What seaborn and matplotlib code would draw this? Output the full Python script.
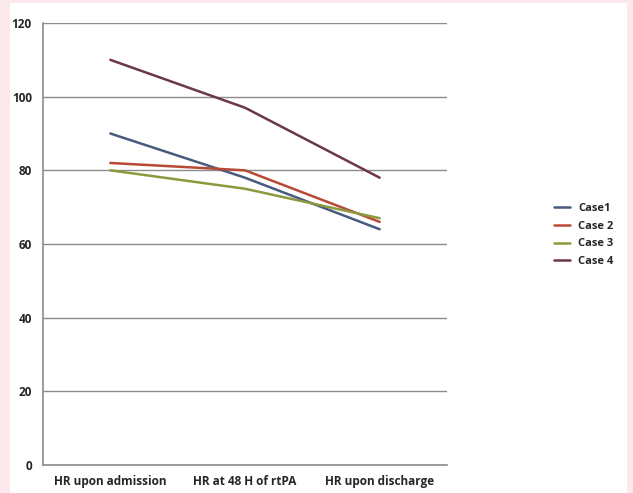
import pandas as pd
import matplotlib.pyplot as plt
import seaborn as sns
from matplotlib.patches import Rectangle

# chart values
stages = ["HR upon admission", "HR at 48 H of rtPA", "HR upon discharge"]
case_names = ["Case1", "Case 2", "Case 3", "Case 4"]
case1 = [90, 78, 64]
case2 = [82, 80, 66]
case3 = [80, 75, 67]
case4 = [110, 97, 78]
y_ticks = [0, 20, 40, 60, 80, 100, 120]
colors = ["#485a7e", "#b84a35", "#8c9a3e", "#6a3848"]

rows = []
for name, vals in zip(case_names, [case1, case2, case3, case4]):
    for i, v in enumerate(vals):
        rows.append({"stage": i, "case": name, "hr": v})
df = pd.DataFrame(rows)

sns.set_style("white")
plt.rcParams['font.family'] = ['Open Sans', 'DejaVu Sans']

fig = plt.figure(figsize=(6.33, 4.93), dpi=100, facecolor="#fbe9ec")
fig.patches.append(Rectangle((10 / 633, 0), 617 / 633, 490 / 493, transform=fig.transFigure,
                             facecolor="white", edgecolor="none", zorder=-10))
ax = fig.add_axes([43 / 633, 28 / 493, 404 / 633, 442 / 493])
ax.set_facecolor("none")

sns.lineplot(data=df, x="stage", y="hr", hue="case", palette=colors, linewidth=1.8, ax=ax)

ax.set_xlim(-0.5, 2.5)
ax.set_ylim(0, 120)
ax.set_yticks(y_ticks, labels=[str(v) for v in y_ticks], fontsize=8.5, fontweight="bold")
ax.yaxis.grid(True, color="#8c8c8c", linewidth=1)
ax.set_axisbelow(True)
for s in ["top", "right"]:
    ax.spines[s].set_visible(False)
ax.spines["left"].set_color("#8c8c8c")
ax.spines["bottom"].set_color("#8c8c8c")
ax.spines["left"].set_linewidth(1.2)
ax.spines["bottom"].set_linewidth(1.2)

# category ticks between groups, labels centered
ax.set_xticks([-0.5, 0.5, 1.5, 2.5])
ax.set_xticklabels([])
ax.set_xticks([0, 1, 2], minor=True)
ax.set_xticklabels(stages, minor=True, fontsize=8.5, fontweight="bold")
ax.tick_params(axis="x", which="major", direction="out", length=5, color="#8c8c8c")
ax.tick_params(axis="x", which="minor", length=0, pad=7)
ax.tick_params(axis="y", direction="out", length=5, color="#8c8c8c", pad=3)
ax.set_xlabel("")
ax.set_ylabel("")

leg = ax.legend(loc="center left", bbox_to_anchor=(1.24, 0.52), frameon=False,
                handlelength=1.4, prop={"size": 8, "weight": "bold"},
                labelspacing=0.6, handletextpad=0.8)

fig.savefig("out.png", dpi=100, facecolor=fig.get_facecolor())
